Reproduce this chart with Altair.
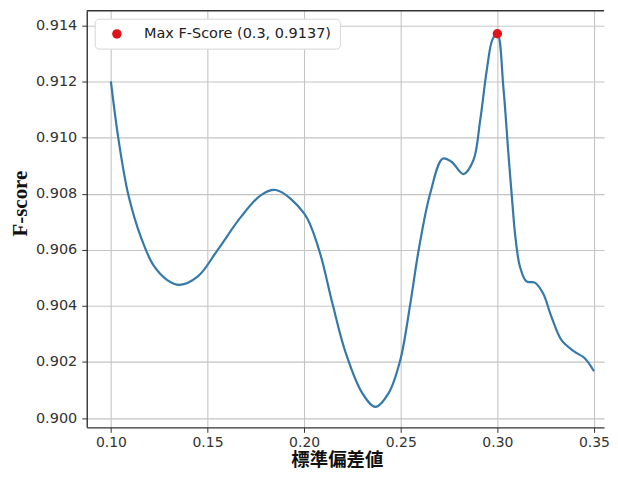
import altair as alt
import pandas as pd

# data
std_vals = [0.100, 0.1038, 0.1089, 0.1158, 0.1220, 0.1290, 0.1356, 0.1450, 0.1553,
            0.1674, 0.1777, 0.1854, 0.2000, 0.2077, 0.2146, 0.2215, 0.2300, 0.2369,
            0.2438, 0.2498, 0.2550, 0.2593, 0.2652, 0.2718, 0.2764, 0.2825, 0.2876, 0.2911,
            0.2945, 0.2975, 0.3000, 0.3031, 0.3057, 0.3082, 0.3091, 0.3117, 0.3151, 0.3194,
            0.3237, 0.3280, 0.3332, 0.3399, 0.3451, 0.3500]
f_scores = [0.91200, 0.91000, 0.90800, 0.90640, 0.90545, 0.90493, 0.90475, 0.90505, 0.90600,
            0.90718, 0.90795, 0.90813, 0.90730, 0.90600, 0.90410, 0.90233, 0.90090, 0.90040,
            0.90090, 0.90208, 0.90410, 0.90600, 0.90800, 0.90925, 0.90913, 0.90870, 0.90919, 0.91061,
            0.91239, 0.91350, 0.91370, 0.91180, 0.90944, 0.90730, 0.90660, 0.90540, 0.90487, 0.90483,
            0.90444, 0.90361, 0.90278, 0.90237, 0.90214, 0.90167]
max_label = ["Max F-Score (0.3, 0.9137)"]
max_x = [0.3]
max_y = [0.9137]
x_ticks = [0.10, 0.15, 0.20, 0.25, 0.30, 0.35]
y_ticks = [0.900, 0.902, 0.904, 0.906, 0.908, 0.910, 0.912, 0.914]

df = pd.DataFrame({"std": std_vals, "f": f_scores})
dmax = pd.DataFrame({"std": max_x, "f": max_y, "label": max_label})

W, H = 519, 418
xdom = [0.0875, 0.3552]
ydom = [0.89967, 0.91452]

xenc = alt.X("std:Q", scale=alt.Scale(domain=xdom, nice=False, zero=False),
             axis=alt.Axis(values=x_ticks, format=".2f", title="標準偏差値",
                           labelPadding=3, labelFontSize=14,
                           titleFont="Noto Sans CJK JP", titleFontSize=18.5, titleFontWeight="bold",
                           titleColor="#111", titleX=251, titleY=32, titleBaseline="middle",
                           titleAnchor="start", titleAlign="center"))
yenc = alt.Y("f:Q", scale=alt.Scale(domain=ydom, nice=False, zero=False),
             axis=alt.Axis(values=y_ticks, format=".3f", title="F-score",
                           labelPadding=5,
                           titleFont="Liberation Serif", titleFontSize=21, titleFontWeight="bold",
                           titleColor="#111", titleX=-66, titleY=193, titleBaseline="middle",
                           titleAnchor="start", titleAlign="center"))

line = alt.Chart(df).mark_line(color="#3579a8", strokeWidth=2.2, interpolate="catmull-rom").encode(
    x=xenc, y=yenc)

pt = alt.Chart(dmax).mark_circle(size=90, opacity=1).encode(
    x="std:Q", y="f:Q",
    color=alt.Color("label:N", scale=alt.Scale(domain=max_label, range=["#e0141b"]),
                    legend=alt.Legend(title=None, orient="none", legendX=8, legendY=8,
                                      fillColor="white", strokeColor="#d6d6d6", cornerRadius=4,
                                      padding=8, symbolOffset=7, labelOffset=20,
                                      symbolSize=90, symbolType="circle",
                                      labelFont="DejaVu Sans", labelFontSize=14.5,
                                      labelColor="#222", labelLimit=400)))

topline = alt.Chart(pd.DataFrame({"a": [0]})).mark_rule(color="#333", strokeWidth=1.4).encode(
    x=alt.value(0), x2=alt.value(W), y=alt.value(0))

chart = alt.layer(line, pt, topline).properties(
    width=W, height=H, autosize="none",
    padding={"left": 79, "top": 2, "right": 6, "bottom": 41},
).configure_view(stroke=None).configure_axis(
    grid=True, gridColor="#c4c4c4", gridWidth=1.1,
    domainColor="#333", domainWidth=1.4,
    tickColor="#333", tickSize=5, tickWidth=1,
    labelFont="DejaVu Sans", labelFontSize=14.5, labelColor="#333",
)

chart.save("out.html", embed_options={"renderer": "svg", "actions": False})
